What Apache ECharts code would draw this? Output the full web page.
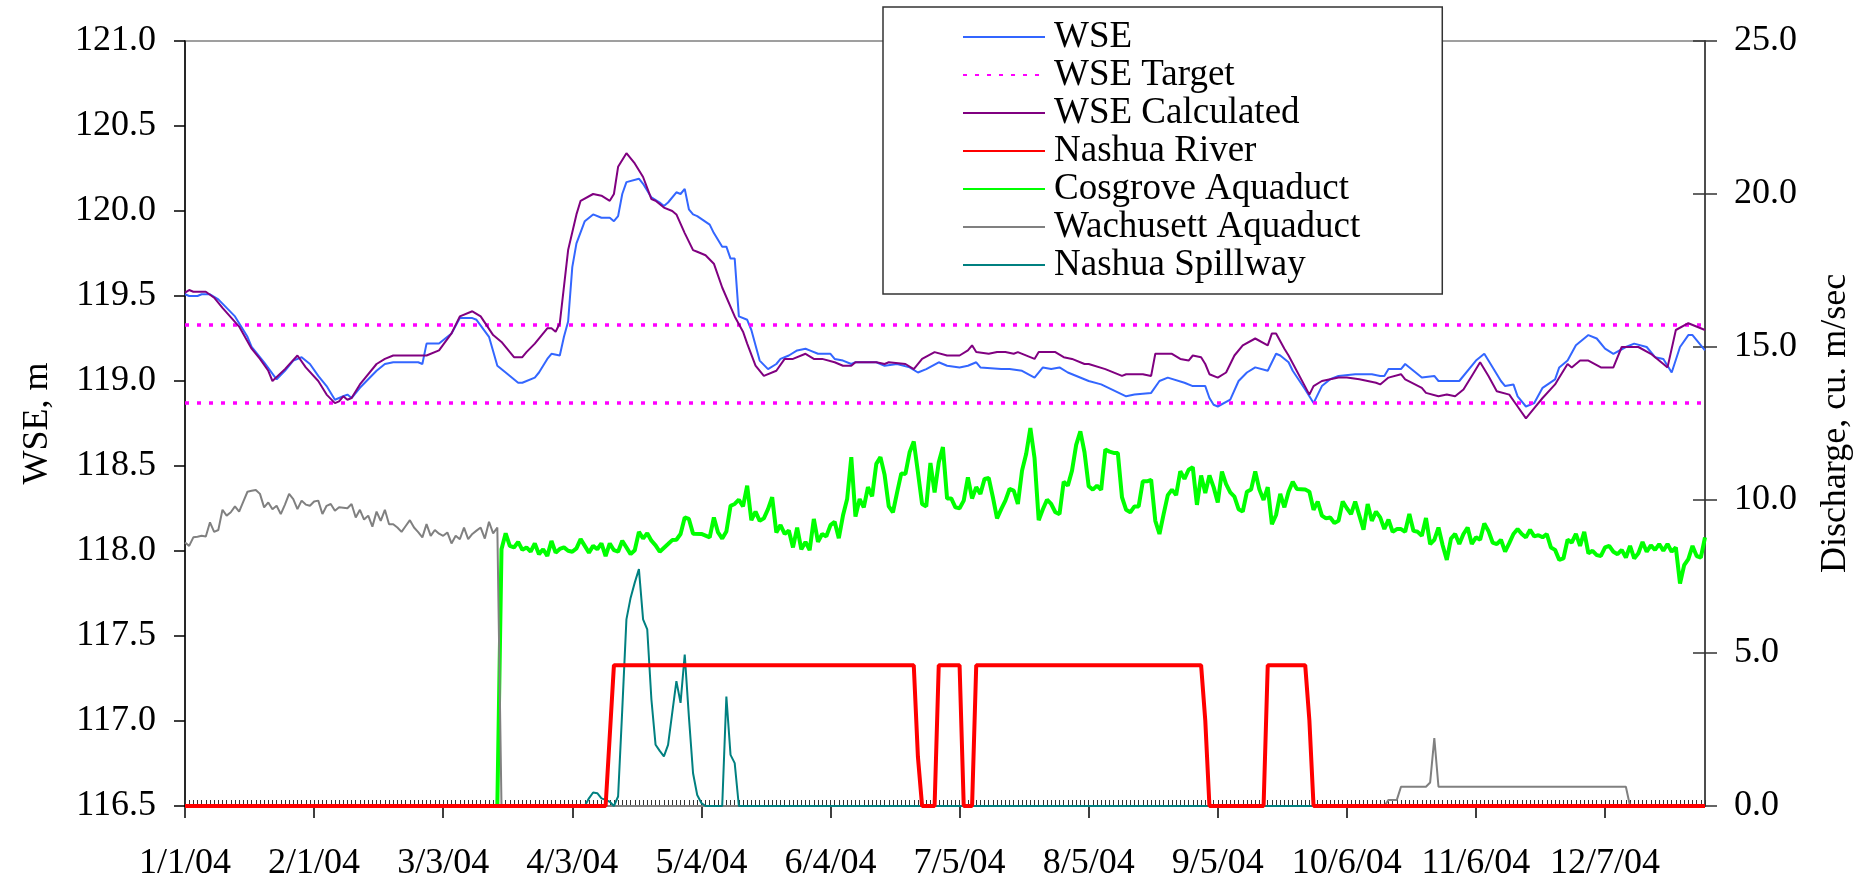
<!DOCTYPE html>
<html>
<head>
<meta charset="utf-8">
<script src="https://cdn.jsdelivr.net/npm/echarts@6/dist/echarts.min.js"></script>
<style>
  html, body { margin: 0; padding: 0; background: #fff; }
  #chart { width: 1872px; height: 887px; }
</style>
</head>
<body>
<div id="chart"></div>
<script>
// Day 0 = 1/1/04. Values are [day of year, value].
const yearStart = new Date(2004, 0, 1);
const tickDays = [0, 31, 62, 93, 124, 155, 186, 217, 248, 279, 310, 341];

// Water surface elevation, m
const wseObserved = [[0,119.51],[1,119.50],[3,119.50],[4,119.51],[6,119.51],[8,119.48],[10,119.43],[12,119.38],[15,119.26],[16,119.20],[19,119.11],[22,119.01],[24,119.06],[26,119.12],[28,119.14],[30,119.10],[32,119.03],[34,118.97],[36,118.89],[38,118.91],[39,118.92],[40,118.90],[42,118.96],[46,119.06],[48,119.10],[50,119.11],[56,119.11],[57,119.10],[58,119.22],[61,119.22],[64,119.28],[66,119.37],[69,119.37],[70,119.36],[73,119.26],[75,119.09],[77,119.05],[80,118.99],[81,118.99],[84,119.02],[85,119.05],[87,119.13],[88,119.16],[90,119.15],[91,119.26],[92,119.35],[93,119.67],[94,119.81],[96,119.94],[98,119.98],[100,119.96],[102,119.96],[103,119.94],[104,119.97],[105,120.10],[106,120.17],[109,120.19],[110,120.16],[112,120.08],[114,120.05],[115,120.03],[116,120.05],[118,120.11],[119,120.10],[120,120.13],[121,120.01],[122,119.98],[123,119.97],[126,119.92],[127,119.87],[129,119.79],[130,119.79],[131,119.72],[132,119.72],[133,119.38],[135,119.36],[136,119.30],[138,119.12],[140,119.07],[142,119.10],[143,119.13],[145,119.15],[147,119.18],[149,119.19],[150,119.18],[152,119.16],[155,119.16],[156,119.13],[158,119.12],[160,119.10],[161,119.11],[166,119.11],[168,119.09],[171,119.10],[174,119.08],[176,119.05],[178,119.07],[181,119.11],[183,119.09],[186,119.08],[188,119.09],[190,119.11],[191,119.08],[196,119.07],[198,119.07],[201,119.06],[204,119.02],[206,119.08],[208,119.07],[210,119.08],[212,119.05],[217,119.00],[220,118.98],[226,118.91],[228,118.92],[232,118.93],[234,119.00],[236,119.02],[240,118.99],[242,118.97],[245,118.97],[246,118.90],[247,118.86],[248,118.85],[251,118.89],[253,119.00],[255,119.05],[257,119.08],[260,119.06],[262,119.16],[263,119.15],[265,119.11],[266,119.06],[269,118.95],[271,118.87],[273,118.97],[275,119.01],[277,119.03],[281,119.04],[285,119.04],[287,119.03],[288,119.03],[289,119.07],[292,119.07],[293,119.10],[295,119.06],[297,119.02],[300,119.03],[301,119.00],[306,119.00],[310,119.12],[312,119.16],[313,119.12],[316,119.00],[317,118.97],[319,118.98],[320,118.91],[322,118.85],[324,118.87],[326,118.96],[329,119.01],[330,119.08],[332,119.12],[334,119.21],[337,119.27],[339,119.25],[341,119.19],[343,119.16],[346,119.20],[348,119.22],[351,119.20],[353,119.14],[355,119.13],[357,119.05],[359,119.20],[361,119.27],[362,119.27],[365,119.18]];

const wseCalculated = [[0,119.52],[1,119.535],[2,119.525],[5,119.525],[7,119.49],[9,119.43],[13,119.32],[16,119.19],[18,119.13],[20,119.06],[21,119.00],[24,119.07],[27,119.15],[29,119.08],[32,119.00],[34,118.92],[36,118.87],[37,118.88],[38,118.91],[39,118.89],[40,118.90],[42,118.98],[46,119.10],[48,119.13],[50,119.15],[58,119.15],[61,119.18],[64,119.28],[66,119.38],[69,119.41],[71,119.38],[74,119.27],[76,119.23],[79,119.14],[81,119.14],[82,119.17],[84,119.22],[87,119.31],[88,119.31],[89,119.29],[90,119.34],[92,119.77],[94,119.98],[95,120.06],[98,120.10],[100,120.09],[102,120.06],[103,120.10],[104,120.26],[106,120.34],[108,120.28],[110,120.20],[112,120.07],[113,120.06],[115,120.02],[117,120.00],[118,119.98],[120,119.87],[122,119.77],[123,119.76],[125,119.74],[127,119.69],[129,119.55],[132,119.38],[134,119.29],[135,119.22],[137,119.09],[139,119.03],[142,119.06],[144,119.13],[146,119.13],[149,119.16],[151,119.13],[153,119.13],[156,119.11],[158,119.09],[160,119.09],[161,119.11],[166,119.11],[168,119.10],[169,119.11],[173,119.10],[175,119.07],[177,119.13],[180,119.17],[183,119.15],[186,119.15],[188,119.18],[189,119.21],[190,119.17],[193,119.16],[195,119.17],[197,119.17],[199,119.16],[200,119.17],[204,119.13],[205,119.17],[209,119.17],[211,119.14],[213,119.13],[216,119.10],[217,119.10],[221,119.07],[225,119.03],[226,119.04],[230,119.04],[232,119.03],[233,119.16],[237,119.16],[239,119.13],[241,119.12],[242,119.15],[244,119.14],[245,119.10],[246,119.04],[248,119.02],[250,119.05],[252,119.15],[254,119.21],[257,119.25],[260,119.21],[261,119.28],[262,119.28],[264,119.19],[265,119.15],[270,118.92],[271,118.97],[273,119.00],[277,119.02],[279,119.02],[282,119.01],[286,118.99],[287,118.98],[289,119.02],[292,119.04],[293,119.01],[297,118.96],[298,118.93],[301,118.91],[303,118.92],[305,118.91],[307,118.95],[309,119.03],[311,119.11],[313,119.03],[315,118.94],[318,118.92],[320,118.85],[322,118.78],[324,118.84],[326,118.90],[329,118.98],[330,119.02],[332,119.10],[333,119.08],[335,119.12],[337,119.12],[340,119.08],[343,119.08],[345,119.20],[349,119.20],[352,119.16],[355,119.10],[356,119.08],[358,119.30],[361,119.34],[365,119.30]];

// Upper and lower target elevations, m
const wseTargetLevels = [119.33, 118.87];

// Discharges, cu. m/sec
const nashuaRiver = [[0,0],[101,0],[103,4.6],[175,4.6],[176,1.6],[177,0],[180,0],[181,4.6],[186,4.6],[187,0],[189,0],[190,4.6],[244,4.6],[245,2.8],[246,0],[259,0],[260,4.6],[269,4.6],[270,2.8],[271,0],[365,0]];

const cosgroveAquaduct = [[0,0],[75,0],[76,8.39],[77,8.91],[78,8.50],[79,8.45],[80,8.63],[81,8.37],[82,8.45],[83,8.31],[84,8.58],[85,8.23],[86,8.39],[87,8.17],[88,8.66],[89,8.28],[90,8.40],[91,8.45],[92,8.34],[93,8.31],[94,8.42],[95,8.72],[97,8.28],[98,8.50],[99,8.39],[100,8.58],[101,8.17],[102,8.58],[103,8.36],[104,8.31],[105,8.67],[107,8.23],[108,8.36],[109,8.96],[110,8.74],[111,8.91],[112,8.67],[113,8.52],[114,8.31],[116,8.56],[117,8.69],[118,8.70],[119,8.89],[120,9.43],[121,9.38],[122,8.90],[124,8.89],[126,8.78],[127,9.43],[128,8.94],[129,8.74],[130,8.97],[131,9.81],[132,9.87],[133,10.01],[134,9.79],[135,10.47],[136,9.34],[137,9.62],[138,9.32],[139,9.40],[140,9.70],[141,10.09],[142,8.94],[143,9.18],[144,8.89],[145,9.00],[146,8.45],[147,9.10],[148,8.39],[149,8.63],[150,8.36],[151,9.38],[152,8.63],[153,8.89],[154,8.81],[155,9.18],[156,9.29],[157,8.75],[158,9.49],[159,10.03],[160,11.40],[161,9.46],[162,10.03],[163,9.76],[164,10.42],[165,10.12],[166,11.18],[167,11.40],[168,10.82],[169,9.79],[170,9.60],[171,10.25],[172,10.87],[173,10.85],[174,11.56],[175,11.91],[176,10.91],[177,9.87],[178,9.79],[179,11.21],[180,10.25],[181,11.23],[182,11.73],[183,10.05],[184,10.05],[185,9.76],[186,9.73],[187,9.98],[188,10.74],[189,10.05],[190,10.42],[191,10.20],[192,10.69],[193,10.72],[194,10.09],[195,9.40],[196,9.70],[197,9.98],[198,10.36],[199,10.31],[200,9.87],[201,10.96],[202,11.51],[203,12.35],[204,11.37],[205,9.34],[206,9.70],[207,10.01],[208,9.87],[209,9.60],[210,9.54],[211,10.60],[212,10.47],[213,10.96],[214,11.80],[215,12.24],[216,11.56],[217,10.45],[218,10.34],[219,10.47],[220,10.33],[221,11.65],[222,11.58],[223,11.54],[224,11.54],[225,10.09],[226,9.68],[227,9.60],[228,9.79],[229,9.79],[230,10.61],[231,10.61],[232,10.66],[233,9.32],[234,8.89],[235,9.54],[236,10.16],[237,10.34],[238,10.16],[239,10.94],[240,10.69],[241,10.99],[242,11.07],[243,9.84],[244,10.80],[245,10.23],[246,10.80],[247,10.42],[248,9.92],[249,10.93],[250,10.52],[251,10.25],[252,10.11],[253,9.70],[254,9.62],[255,10.27],[256,10.34],[257,10.93],[258,10.34],[259,10.00],[260,10.42],[261,9.21],[262,9.51],[263,10.20],[264,9.76],[265,10.27],[266,10.60],[267,10.36],[268,10.35],[269,10.34],[270,10.27],[271,9.68],[272,9.95],[273,9.49],[274,9.40],[275,9.43],[276,9.25],[277,9.32],[278,9.95],[279,9.73],[280,9.54],[281,9.95],[282,9.49],[283,9.03],[284,9.87],[285,9.32],[286,9.62],[287,9.43],[288,9.05],[289,9.36],[290,8.96],[291,9.05],[292,9.05],[293,8.96],[294,9.54],[295,8.99],[296,8.96],[297,8.83],[298,9.41],[299,8.56],[300,8.70],[301,9.10],[302,8.52],[303,8.04],[304,8.74],[305,8.89],[306,8.56],[307,8.89],[308,9.10],[309,8.56],[310,8.78],[311,8.70],[312,9.23],[313,8.99],[314,8.61],[315,8.56],[316,8.70],[317,8.31],[318,8.59],[319,8.89],[320,9.05],[321,8.89],[322,8.78],[323,9.03],[324,8.81],[325,8.85],[326,8.78],[327,8.89],[328,8.45],[329,8.37],[330,8.04],[331,8.09],[332,8.70],[333,8.61],[334,8.89],[335,8.50],[336,8.96],[337,8.26],[338,8.34],[339,8.20],[340,8.17],[341,8.45],[342,8.50],[343,8.31],[344,8.23],[345,8.37],[346,8.12],[347,8.50],[348,8.09],[349,8.26],[350,8.63],[351,8.31],[352,8.52],[353,8.37],[354,8.56],[355,8.34],[356,8.56],[357,8.31],[358,8.45],[359,7.27],[360,7.87],[361,8.07],[362,8.50],[363,8.17],[364,8.12],[365,8.78]];

// Wachusett Aquaduct: daily flow from 1/1/04 to 3/16/04, then later operation
const wachusettDaily = [8.61,8.50,8.78,8.80,8.83,8.81,9.27,8.96,9.02,9.68,9.49,9.60,9.79,9.62,9.95,10.27,10.30,10.33,10.20,9.76,9.92,9.70,9.81,9.54,9.85,10.20,10.03,9.70,9.98,9.85,9.81,9.95,9.98,9.54,9.81,9.87,9.65,9.76,9.75,9.73,9.87,9.43,9.68,9.36,9.49,9.13,9.62,9.32,9.68,9.21,9.21,9.10,8.96,9.15,9.34,9.10,8.95,8.78,9.21,8.83,9.02,8.90,8.83,8.94,8.58,8.83,8.72,9.10,8.72,8.89,9.00,9.10,8.74,9.29,8.91,9.10];
const wachusettLater = [[76,0],[288,0],[289,0.2],[291,0.2],[292,0.63],[298,0.63],[299,0.77],[300,2.22],[301,0.63],[346,0.63],[347,0],[365,0]];

const nashuaSpillway = [[0,0],[96,0],[97,0.25],[98,0.44],[99,0.42],[100,0.25],[101,0.2],[102,0.14],[103,0],[104,0.31],[105,3.15],[106,6.1],[107,6.8],[108,7.3],[109,7.74],[110,6.1],[111,5.77],[112,3.48],[113,2.0],[114,1.8],[115,1.62],[116,2.0],[117,3.04],[118,4.08],[119,3.37],[120,4.95],[121,2.92],[122,1.07],[123,0.36],[124,0.1],[125,0],[129,0],[130,3.58],[131,1.67],[132,1.40],[133,0],[365,0]];

const FONT = "'Liberation Serif', 'Times New Roman', serif";

function dayLabel(d) {
  if (tickDays.indexOf(d) < 0) return '';
  const dt = new Date(yearStart.getTime());
  dt.setDate(dt.getDate() + d);
  return (dt.getMonth() + 1) + '/' + dt.getDate() + '/' + String(dt.getFullYear()).slice(2);
}

const wachusett = wachusettDaily.map((v, i) => [i, v]).concat(wachusettLater);

function line(name, data, color, width, yAxisIndex, type) {
  return {
    name, type: 'line', data, xAxisIndex: 0, yAxisIndex,
    symbol: 'none', showSymbol: false, silent: true,
    lineStyle: { color, width, type: type || 'solid', cap: 'butt' },
    itemStyle: { color }
  };
}

const targetSeries = wseTargetLevels.map(level =>
  line('WSE Target', [[0, level], [365, level]], '#FF00FF', 3.5, 0, [4, 8]));

const chart = echarts.init(document.getElementById('chart'), null, { renderer: 'canvas' });
chart.setOption({
  animation: false,
  backgroundColor: '#ffffff',
  textStyle: { fontFamily: FONT, color: '#000' },
  grid: {
    left: 185, right: 167, top: 41, bottom: 81,
    show: true, borderColor: '#808080', borderWidth: 1.5, backgroundColor: 'transparent'
  },
  legend: {
    orient: 'vertical',
    left: 883, top: 7,
    padding: [11, 82, 10, 79],
    itemGap: 0,
    itemWidth: 82,
    itemHeight: 14,
    backgroundColor: '#ffffff',
    borderColor: '#333',
    borderWidth: 1.5,
    itemStyle: { opacity: 0, borderWidth: 0 },
    textStyle: { fontFamily: FONT, fontSize: 37, lineHeight: 38, color: '#000', padding: [0, 0, 0, 4] },
    data: ['WSE', 'WSE Target', 'WSE Calculated', 'Nashua River', 'Cosgrove Aquaduct', 'Wachusett Aquaduct', 'Nashua Spillway']
  },
  xAxis: [
    {
      type: 'value', min: 0, max: 365, interval: 31, position: 'bottom',
      axisLine: { show: true, onZero: false, lineStyle: { color: '#000', width: 1.5 } },
      axisTick: { show: true, length: 12, customValues: tickDays, lineStyle: { color: '#000', width: 1.5 } },
      axisLabel: { customValues: tickDays, formatter: dayLabel, margin: 40, fontFamily: FONT, fontSize: 36, color: '#000' },
      splitLine: { show: false }
    },
    {
      // daily minor ticks along the bottom
      type: 'value', min: 0, max: 365, interval: 1, position: 'bottom',
      axisLine: { show: false, onZero: false },
      axisTick: { show: true, inside: true, length: 6, lineStyle: { color: '#333', width: 1 } },
      axisLabel: { show: false },
      splitLine: { show: false }
    }
  ],
  yAxis: [
    {
      type: 'value', min: 116.5, max: 121, interval: 0.5, position: 'left',
      name: 'WSE, m', nameLocation: 'middle', nameRotate: 90, nameGap: 129,
      nameTextStyle: { fontFamily: FONT, fontSize: 36, color: '#000' },
      axisLine: { show: true, onZero: false, lineStyle: { color: '#000', width: 1.5 } },
      axisTick: { show: true, length: 11, lineStyle: { color: '#000', width: 1.5 } },
      axisLabel: { formatter: v => v.toFixed(1), margin: 29, fontFamily: FONT, fontSize: 36, color: '#000' },
      splitLine: { show: false }
    },
    {
      type: 'value', min: 0, max: 25, interval: 5, position: 'right',
      name: 'Discharge, cu. m/sec', nameLocation: 'middle', nameRotate: 90, nameGap: 113,
      nameTextStyle: { fontFamily: FONT, fontSize: 36, color: '#000' },
      axisLine: { show: true, onZero: false, lineStyle: { color: '#333', width: 1.5 } },
      axisTick: { show: true, length: 12, lineStyle: { color: '#333', width: 1.5 } },
      axisLabel: { formatter: v => v.toFixed(1), margin: 29, fontFamily: FONT, fontSize: 36, color: '#000' },
      splitLine: { show: false }
    },
    {
      // inner half of the crossing ticks on the discharge axis
      type: 'value', min: 0, max: 25, interval: 5, position: 'right',
      axisLine: { show: false, onZero: false },
      axisTick: { show: true, inside: true, length: 12, lineStyle: { color: '#333', width: 1.5 } },
      axisLabel: { show: false },
      splitLine: { show: false }
    }
  ],
  series: [
    line('WSE', wseObserved, '#3366FF', 2, 0),
    ...targetSeries,
    line('WSE Calculated', wseCalculated, '#800080', 2, 0),
    line('Cosgrove Aquaduct', cosgroveAquaduct, '#00FF00', 4, 1),
    line('Wachusett Aquaduct', wachusett, '#808080', 2, 1),
    line('Nashua Spillway', nashuaSpillway, '#008080', 2, 1),
    line('Nashua River', nashuaRiver, '#FF0000', 4, 1)
  ]
});
</script>
</body>
</html>
